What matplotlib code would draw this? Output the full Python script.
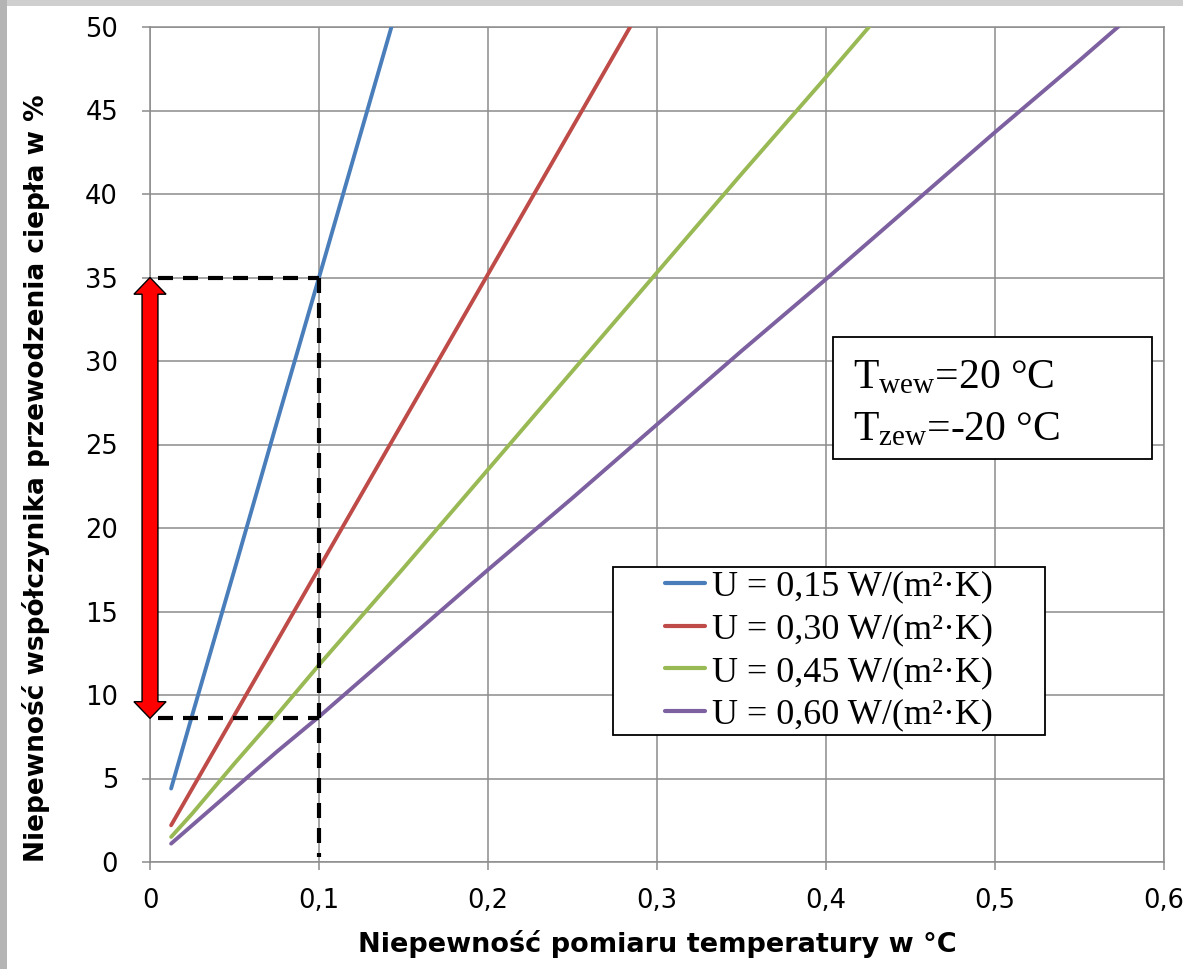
import matplotlib
matplotlib.use("Agg")
import matplotlib.pyplot as plt
from matplotlib.patches import Rectangle, Polygon

# --- data ---
x_vals = [0.0125, 0.025, 0.05, 0.075, 0.1, 0.15, 0.2, 0.25, 0.3, 0.35, 0.4, 0.45, 0.5, 0.55, 0.6]
u_015 = [4.4, 8.8, 17.5, 26.3, 35.0, 52.5]
u_030 = [2.2, 4.4, 8.8, 13.2, 17.6, 26.4, 35.2, 44.0, 52.8]
u_045 = [1.5, 2.9, 5.9, 8.8, 11.8, 17.6, 23.5, 29.4, 35.3, 41.2, 47.0, 52.9]
u_060 = [1.1, 2.2, 4.4, 6.6, 8.7, 13.1, 17.5, 21.8, 26.2, 30.6, 34.9, 39.3, 43.7, 48.0, 52.4]
series = [u_015, u_030, u_045, u_060]
labels = ["U = 0,15 W/(m²·K)", "U = 0,30 W/(m²·K)",
          "U = 0,45 W/(m²·K)", "U = 0,60 W/(m²·K)"]
colors = ["#4A7EBB", "#BE4B48", "#98B954", "#7D60A0"]

x_ticks = [0, 0.1, 0.2, 0.3, 0.4, 0.5, 0.6]
x_ticklabels = ["0", "0,1", "0,2", "0,3", "0,4", "0,5", "0,6"]
y_ticks = list(range(0, 55, 5))

# reading example: dT = 0.1 °C -> 8.6 ... 35 %
dt_mark = 0.1
y_low = 8.6
y_high = 35.0

plt.rcParams["mathtext.fontset"] = "custom"
plt.rcParams["mathtext.rm"] = "Liberation Serif"
plt.rcParams["mathtext.it"] = "Liberation Serif:italic"

fig = plt.figure(figsize=(11.83, 9.69), dpi=100)
ax = fig.add_axes([150 / 1183, 1 - 862 / 969, 1014 / 1183, 835 / 969])

grid_c = "#8c8c8c"
ax.set_xlim(0, 0.6)
ax.set_ylim(0, 50)
ax.set_xticks(x_ticks)
ax.set_xticklabels(x_ticklabels)
ax.set_yticks(y_ticks)
ax.grid(True, color=grid_c, linewidth=1.1)
ax.set_axisbelow(True)
for s in ax.spines.values():
    s.set_color(grid_c)
    s.set_linewidth(1.1)
ax.tick_params(axis="both", direction="out", length=6, width=1.1, color=grid_c,
               labelsize=18.5, labelcolor="black")
ax.tick_params(axis="y", pad=17)
ax.tick_params(axis="x", pad=13)

for ys, lab, c in zip(series, labels, colors):
    ax.plot(x_vals[:len(ys)], ys, color=c, linewidth=2.8, label=lab,
            solid_capstyle="round", zorder=3)

# dashed guide lines
dash = (0, (3.6, 2.4))
ax.plot([0.005, dt_mark], [y_high, y_high], color="black", lw=3, linestyle=dash, zorder=4)
ax.plot([0.005, dt_mark], [y_low, y_low], color="black", lw=3, linestyle=dash, zorder=4)
ax.plot([dt_mark, dt_mark], [y_high, 0.3], color="black", lw=3, linestyle=dash, zorder=4)

# red double arrow on the y axis
sw = 0.0047
hw = 0.0095
hl = 1.0
arrow_pts = [(0, y_high), (hw, y_high - hl), (sw, y_high - hl), (sw, y_low + hl),
             (hw, y_low + hl), (0, y_low), (-hw, y_low + hl), (-sw, y_low + hl),
             (-sw, y_high - hl), (-hw, y_high - hl)]
ax.add_patch(Polygon(arrow_pts, closed=True, facecolor="red", edgecolor="black",
                     linewidth=1.0, clip_on=False, zorder=6))

# legend with its own box
ax.add_patch(Rectangle((0.4566, 0.1521), 0.426, 0.2012, transform=ax.transAxes,
                       facecolor="white", edgecolor="black", linewidth=1.3, zorder=5))
leg = ax.legend(loc="center", bbox_to_anchor=(0.6696, 0.2527), frameon=False,
                prop={"family": "Liberation Serif", "size": 26},
                handlelength=1.1, handletextpad=0.2, labelspacing=0.26,
                borderpad=0)
leg.set_zorder(6)
for h in leg.get_lines():
    h.set_linewidth(3)

# temperature box
ax.add_patch(Rectangle((0.6736, 0.4826), 0.3146, 0.1461, transform=ax.transAxes,
                       facecolor="white", edgecolor="black", linewidth=1.3, zorder=5))
ax.text(0.6933, 0.5677, r"T$_{\mathrm{wew}}$=20 °C", transform=ax.transAxes,
        family="Liberation Serif", fontsize=30, va="baseline", zorder=6)
ax.text(0.6933, 0.5054, r"T$_{\mathrm{zew}}$=-20 °C", transform=ax.transAxes,
        family="Liberation Serif", fontsize=30, va="baseline", zorder=6)

ax.set_xlabel("Niepewność pomiaru temperatury w °C", fontsize=19.5,
              fontweight="bold", labelpad=11)
fig.text(36 / 1183, 1 - 478 / 969, "Niepewność współczynika przewodzenia ciepła w %",
         rotation=90, ha="center", va="center", fontsize=19, fontweight="bold")

# gray frame strips of the original slide
fig.patches.append(Rectangle((0, 1 - 6 / 969), 1, 6 / 969, transform=fig.transFigure,
                             facecolor="#cfcfcf", edgecolor="none"))
fig.patches.append(Rectangle((0, 0), 7 / 1183, 1, transform=fig.transFigure,
                             facecolor="#b4b4b4", edgecolor="none"))

fig.savefig("out.png", dpi=100)
